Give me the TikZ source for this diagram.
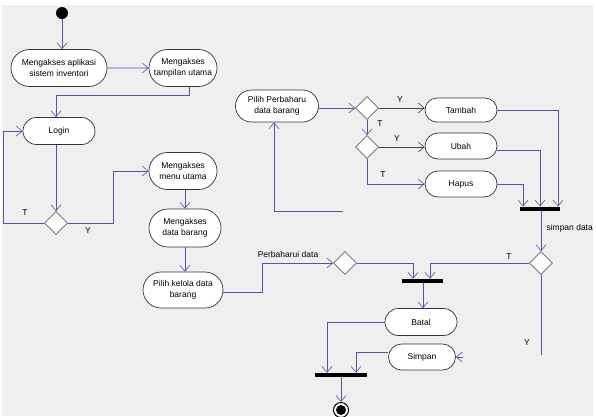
\documentclass[tikz,border=0pt]{standalone}
\usepackage{fontspec}
\setmainfont{Liberation Sans}
\usetikzlibrary{shapes.geometric,shapes.misc,arrows.meta}

\definecolor{flowblue}{RGB}{84,84,164}
\definecolor{paneback}{RGB}{239,239,239}

\tikzset{
  act/.style={rounded rectangle, draw=black!80, fill=white, line width=0.7pt,
    minimum width=74pt, minimum height=27pt, inner sep=1pt, align=center,
    font=\fontsize{8.5}{11}\selectfont},
  dec/.style={diamond, draw=black!60, fill=white, line width=0.6pt,
    minimum size=23pt, inner sep=0pt},
  syncbar/.style={rectangle, fill=black, inner sep=0pt, minimum height=4.5pt},
  flow/.style={draw=flowblue, line width=0.6pt,
    -{Straight Barb[length=6pt,width=10pt,line width=0.6pt]}},
  darkflow/.style={flow, draw=black!75},
  guard/.style={font=\fontsize{8.5}{10}\selectfont}
}

\begin{document}
\begin{tikzpicture}[x=1pt,y=-1pt]
  \useasboundingbox (0,0) rectangle (596,416);
  \fill[white] (0,0) rectangle (596,416);
  \fill[paneback] (2,5) rectangle (593,416);

  % login part
  \node[circle, fill=black, minimum size=12pt, inner sep=0pt] (start) at (62,13) {};
  \node[act, minimum width=98pt, minimum height=37pt] (aplikasi) at (59,68) {Mengakses aplikasi\\sistem inventori};
  \node[act, minimum width=70pt, minimum height=37pt] (tampilan) at (183,68) {Mengakses\\tampilan utama};
  \node[act] (login) at (59,131) {Login};
  \node[dec] (dlogin) at (56,223) {};

  % menu part
  \node[act, minimum width=70pt, minimum height=37pt] (menu) at (183,171) {Mengakses\\menu utama};
  \node[act, minimum height=38pt] (databrg) at (185,228) {Mengakses\\data barang};
  \node[act, minimum width=82pt, minimum height=36pt] (kelola) at (183,290) {Pilih kelola data\\barang};

  % update part
  \node[act, minimum width=85pt, minimum height=32pt] (perbaharu) at (277,106) {Pilih Perbaharu\\data barang};
  \node[dec] (dtambah) at (367,108) {};
  \node[dec] (dubah) at (367,147) {};
  \node[act, minimum height=24pt] (tambah) at (461,110) {Tambah};
  \node[act, minimum height=26pt] (ubah) at (461,146) {Ubah};
  \node[act, minimum height=26pt] (hapus) at (461,184) {Hapus};
  \node[syncbar, minimum width=40pt] (bar1) at (540,209) {};

  % save / cancel part
  \node[dec] (dperbaharui) at (345,263) {};
  \node[dec] (dsimpan) at (541,263) {};
  \node[syncbar, minimum width=41pt, minimum height=4pt] (bar2) at (422,281) {};
  \node[act] (batal) at (421,322) {Batal};
  \node[act, minimum width=69pt, minimum height=26pt] (simpan) at (422,357) {Simpan};
  \node[syncbar, minimum width=52pt, minimum height=4pt] (bar3) at (341,375) {};
  \node[circle, draw=black, line width=1pt, fill=white, minimum size=15pt, inner sep=0pt] (finish) at (341,410) {};
  \node[circle, fill=black, minimum size=10pt, inner sep=0pt] at (finish) {};

  \coordinate (loopstart) at (343,211);
  \coordinate (yend) at (541,355);
  \coordinate (stray) at ([xshift=7pt]simpan.east);

  % connectors
  \draw[flow] (start) -- (start |- aplikasi.north);
  \draw[flow] (aplikasi) -- (tampilan);
  \draw[flow] ([xshift=6pt]tampilan.south) -- ++(0,8) -| ([xshift=-3pt]login.north);
  \draw[flow] ([xshift=-3pt]login.south) -- (dlogin.north);
  \draw[flow] (dlogin.west) -- ++(-41,0) |- (login.west);
  \node[guard] at (25,213) {T};
  \draw[flow] (dlogin.east) -- ++(45,0) |- (menu.west);
  \node[guard] at (88,231) {Y};
  \draw[flow] ([xshift=2pt]menu.south) -- (databrg.north);
  \draw[flow] (databrg.south) -- (databrg.south |- kelola.north);
  \draw[flow] ([yshift=-2pt]kelola.east) -- ++(39,0) |- (dperbaharui.west);
  \node[guard] at (288,254) {Perbaharui data};

  \draw[flow] (loopstart) -| ([xshift=-3pt]perbaharu.south);
  \draw[flow] (perbaharu.east |- dtambah) -- (dtambah.west);
  \draw[darkflow] (dtambah.east) -- (tambah.west |- dtambah);
  \node[guard] at (400,100) {Y};
  \draw[flow] (dtambah.south) -- (dubah.north);
  \node[guard] at (380,124) {T};
  \draw[darkflow] (dubah.east) -- (ubah.west |- dubah);
  \node[guard] at (397,139) {Y};
  \draw[flow] (dubah.south) |- (hapus.west);
  \node[guard] at (383,175) {T};
  \draw[flow] (tambah.east) -| ([xshift=18pt]bar1.north);
  \draw[flow] ([yshift=-4pt]ubah.east) -| (bar1.north);
  \draw[flow] (hapus.east) -| ([xshift=-17pt]bar1.north);

  \draw[flow] ([xshift=1pt]bar1.south) -- (dsimpan.north);
  \node[guard, anchor=west] at (543,228) {simpan data};
  \draw[flow] (dperbaharui.east) -| ([xshift=-9pt]bar2.north);
  \draw[flow] (dsimpan.west) -| ([xshift=8pt]bar2.north);
  \node[guard] at (509,257) {T};
  \draw[flowblue, line width=0.6pt] (dsimpan.south) -- (yend);
  \node[guard] at (527,343) {Y};
  \draw[flow] ([xshift=1pt]bar2.south) -- ([xshift=1pt]bar2.south |- batal.north);
  \draw[flow] (batal.west) -| ([xshift=-14pt]bar3.north);
  \draw[flow] ([yshift=5pt]simpan.west) -| ([xshift=15pt]bar3.north);
  \draw[flow] (stray) -- (simpan.east);
  \draw[flow] (bar3.south) -- (finish.north);
\end{tikzpicture}
\end{document}
